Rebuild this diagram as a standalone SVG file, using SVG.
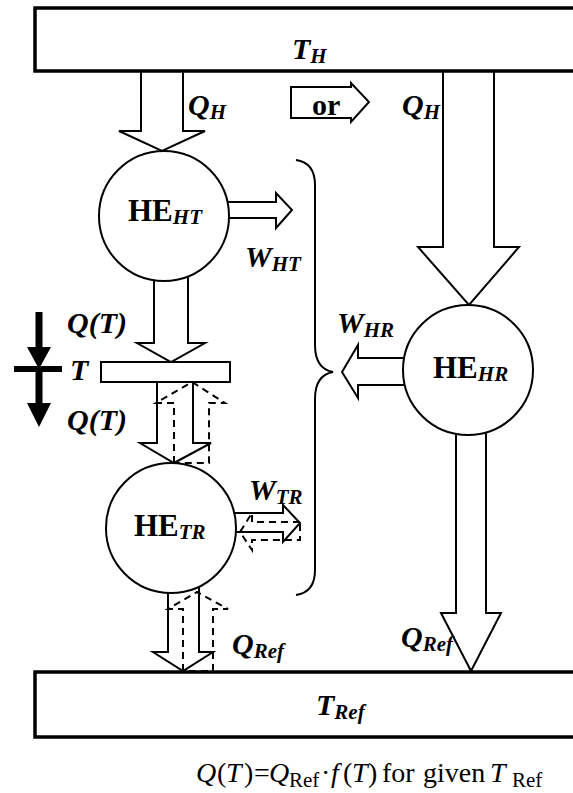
<svg xmlns="http://www.w3.org/2000/svg" width="573" height="793" viewBox="0 0 573 793">
<style>
text{font-family:Liberation Serif, Times New Roman, serif}
.lb{font-weight:bold;font-style:italic;font-size:30px}
.sub{font-size:21px}
.he{font-weight:bold;font-size:31px}
.res{fill:#fff;stroke:#000;stroke-width:3.5}
.ar{fill:#fff;stroke:#000;stroke-width:2;stroke-linejoin:miter}
.da{fill:none;stroke:#000;stroke-width:2;stroke-dasharray:7,5}
.hec{fill:#fff;stroke:#000;stroke-width:2}
</style>
<g id="connectors">
  <polygon class="ar" points="141,70 141,131 119,131 162,151 205,131 183,131 183,70"/>
  <polygon class="ar" points="443,70 443,247 418,247 469,305 519,247 494,247 494,70"/>
  <polygon class="ar" points="291,87 351,87 351,83 369,102 351,122 351,118 291,118"/>
  <polygon class="ar" points="225,202 276,202 276,193 292,210 276,228 276,218 225,218"/>
  <polygon class="ar" points="154,275 154,343 137,343 171,362 205,343 188,343 188,275"/>
  <polygon class="ar" points="157,382 157,443 140,443 174,463 211,443 193,443 193,382"/>
  <polygon class="da" points="174,463 174,403 156,403 192,382 225,403 209,403 209,463"/>
  <polygon class="ar" points="230,513 283,513 283,505 300,523 283,542 283,532 230,532"/>
  <polygon class="da" points="300,522 252,522 252,513 240,532 252,550 252,540 300,540"/>
  <polygon class="ar" points="168,585 168,652 153,652 183,671 213,652 199,652 199,585"/>
  <polygon class="da" points="183,671 183,609 168,609 197,592 228,609 213,609 213,671"/>
  <polygon class="ar" points="410,358 358,358 358,345 342,372 358,398 358,385 410,385"/>
  <polygon class="ar" points="456,430 456,613 441,613 471,671 501,613 486,613 486,430"/>
  <path d="M296,160 C310,162 315,172 315,185 L315,345 C315,362 322,370 333,372 C322,374 315,382 315,399 L315,570 C315,583 310,593 296,595" fill="none" stroke="#000" stroke-width="2"/>
</g>
<g id="res-TH">
  <rect class="res" x="35" y="8" width="570" height="63"/>
  <text class="lb" x="292" y="59">T<tspan class="sub" dy="4">H</tspan></text>
</g>
<g id="res-TRef">
  <rect class="res" x="35" y="672" width="570" height="65"/>
  <text class="lb" x="316" y="715">T<tspan class="sub" dy="4">Ref</tspan></text>
</g>
<g id="HE_HT">
  <circle class="hec" cx="164" cy="216" r="65"/>
  <text class="he" x="128" y="221">HE<tspan class="sub" font-style="italic" dy="3">HT</tspan></text>
</g>
<g id="HE_TR">
  <circle class="hec" cx="171" cy="528" r="65"/>
  <text class="he" x="134" y="536">HE<tspan class="sub" font-style="italic" dy="3">TR</tspan></text>
</g>
<g id="HE_HR">
  <circle class="hec" cx="468" cy="370" r="65"/>
  <text class="he" x="433" y="378">HE<tspan class="sub" font-style="italic" dy="3">HR</tspan></text>
</g>
<g id="T-bar">
  <rect x="101" y="362" width="129" height="20" fill="#fff" stroke="#000" stroke-width="2"/>
  <text class="lb" x="70" y="380">T</text>
</g>
<g id="Q-direction">
  <rect x="35.5" y="312" width="7" height="38" fill="#000"/>
  <polygon points="27,347 51,347 39,369" fill="#000"/>
  <rect x="14" y="366" width="48" height="6" fill="#000"/>
  <rect x="35.5" y="372" width="7" height="34" fill="#000"/>
  <polygon points="27,403 51,403 39,427" fill="#000"/>
</g>
<g id="labels">
  <text class="lb" x="188" y="115">Q<tspan class="sub" dy="4">H</tspan></text>
  <text x="312" y="115" font-weight="bold" font-size="30">or</text>
  <text class="lb" x="402" y="115">Q<tspan class="sub" dy="4">H</tspan></text>
  <text class="lb" x="245" y="267">W<tspan class="sub" dy="4">HT</tspan></text>
  <text class="lb" x="67" y="333">Q(T)</text>
  <text class="lb" x="67" y="430">Q(T)</text>
  <text class="lb" x="337" y="333">W<tspan class="sub" dy="4">HR</tspan></text>
  <text class="lb" x="249" y="500">W<tspan class="sub" dy="4">TR</tspan></text>
  <text class="lb" x="232" y="654">Q<tspan class="sub" dy="4">Ref</tspan></text>
  <text class="lb" x="401" y="647">Q<tspan class="sub" dy="4">Ref</tspan></text>
</g>
<g id="formula" font-size="28">
  <text x="196" y="782"><tspan font-style="italic">Q</tspan><tspan x="217">(</tspan><tspan x="226" font-style="italic">T</tspan><tspan x="244">)</tspan><tspan x="254">=</tspan><tspan x="269" font-style="italic">Q</tspan><tspan x="289" dy="5" font-size="21">Ref</tspan><tspan x="321" dy="-5">·</tspan><tspan x="331" font-style="italic">f</tspan><tspan x="343">(</tspan><tspan x="352" font-style="italic">T</tspan><tspan x="368">)</tspan><tspan x="382">for</tspan><tspan x="423">given</tspan><tspan x="490" font-style="italic">T</tspan><tspan x="512" dy="5" font-size="21">Ref</tspan></text>
</g>
</svg>
